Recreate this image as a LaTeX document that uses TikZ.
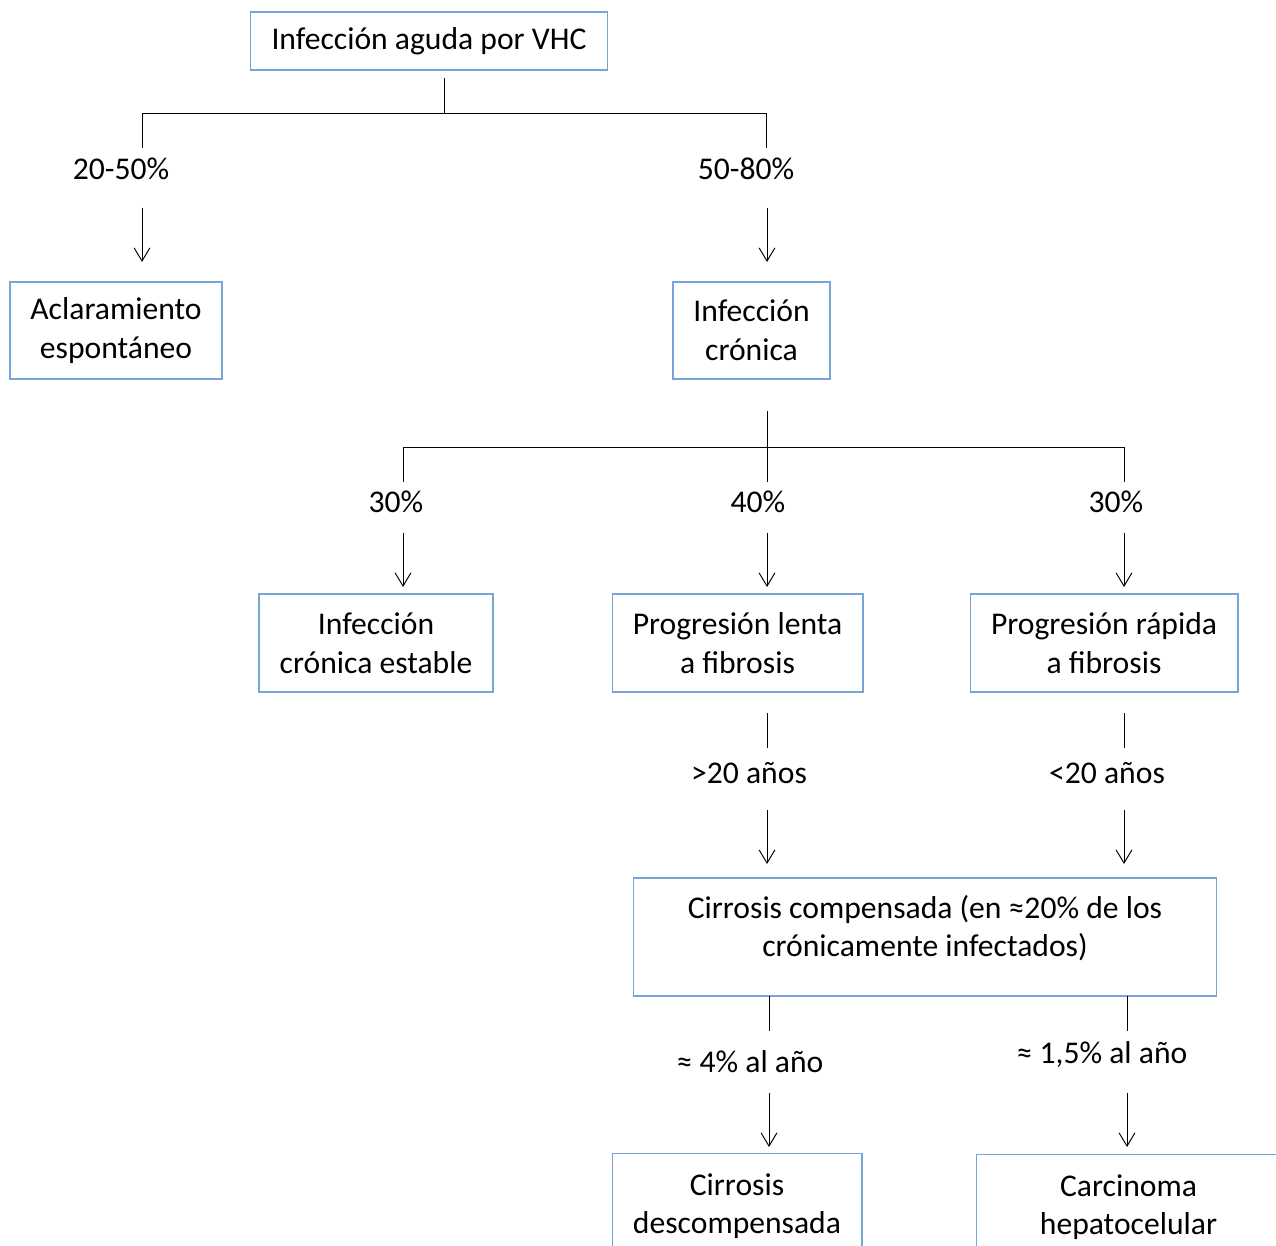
\documentclass[tikz,border=0pt]{standalone}
\usepackage{fontspec}
\setmainfont{Carlito}
\usetikzlibrary{arrows.meta}
\definecolor{boxblue}{RGB}{120,164,216}
\tikzset{
  caja/.style={draw=boxblue, line width=0.6pt, align=center, inner sep=0pt, font=\fontsize{18}{22}\selectfont},
  pct/.style={font=\fontsize{18}{22}\selectfont},
  linea/.style={line width=0.55pt},
  flecha/.style={line width=0.55pt, -{Straight Barb[length=7.5pt,width=9pt]}}
}
\begin{document}
\begin{tikzpicture}[x=0.02cm,y=-0.02cm]
        \clip (0,0) rectangle (1276,1246);
        \fill[white] (0,0) rectangle (1276,1246);
        % cajas
        \node[caja, minimum width=7.16cm, minimum height=1.16cm] (aguda) at (429,41) {Infección aguda por VHC};
        \node[caja, minimum width=4.24cm, minimum height=1.94cm] (aclar) at (116,330.5) {Aclaramiento\\espontáneo};
        \node[caja, minimum width=3.14cm, minimum height=1.94cm] (cronica) at (751.5,330.5) {Infección\\crónica};
        \node[caja, minimum width=4.68cm, minimum height=1.96cm] (estable) at (376,643) {Infección\\crónica estable};
        \node[caja, minimum width=5.02cm, minimum height=1.96cm] (lenta) at (737.5,643) {Progresión lenta\\a fibrosis};
        \node[caja, minimum width=5.36cm, minimum height=1.96cm] (rapida) at (1104,643) {Progresión rápida\\a fibrosis};
        \node[caja, minimum width=11.68cm, minimum height=2.36cm, text depth=0.44cm] (compensada) at (925,937) {Cirrosis compensada (en ≈20\% de los\\crónicamente infectados)};
        \node[caja, anchor=north, minimum width=5cm, minimum height=2.1cm] (descomp) at (737,1153) {Cirrosis\\descompensada};
        \node[caja, anchor=north, minimum width=6.1cm, minimum height=2.1cm] (carcinoma) at (1128.5,1154) {Carcinoma\\hepatocelular};
        % porcentajes
        \node[pct] (p2050) at (121,169) {20-50\%};
        \node[pct] (p5080) at (746,169) {50-80\%};
        \node[pct] (p30a) at (396,502) {30\%};
        \node[pct] (p40) at (758,502) {40\%};
        \node[pct] (p30b) at (1116,502) {30\%};
        \node[pct] (mas20) at (749,773) {>20 años};
        \node[pct] (menos20) at (1107,773) {<20 años};
        \node[pct] (anual4) at (750,1062) {≈ 4\% al año};
        \node[pct] (anual15) at (1102,1055) {≈ 1,5\% al año};
        % ramas
        \coordinate (a1) at (444,78);
        \coordinate (a2) at (444,113);
        \coordinate (izq) at (142,113);
        \coordinate (der) at (766,113);
        \coordinate (izq2) at (142,148);
        \coordinate (der2) at (766,148);
        \draw[linea] (a1) -- (a2);
        \draw[linea] (izq2) -- (izq) -- (der) -- (der2);
        \coordinate (c1) at (767,411);
        \coordinate (c2) at (767,482);
        \coordinate (b1) at (403,447);
        \coordinate (b2) at (1124,447);
        \coordinate (b1b) at (403,482);
        \coordinate (b2b) at (1124,482);
        \draw[linea] (c1) -- (c2);
        \draw[linea] (b1b) -- (b1) -- (b2) -- (b2b);
        \coordinate (l1) at (767,713);
        \coordinate (l2) at (767,748);
        \coordinate (r1) at (1124,713);
        \coordinate (r2) at (1124,748);
        \draw[linea] (l1) -- (l2);
        \draw[linea] (r1) -- (r2);
        \coordinate (d1) at (769,996);
        \coordinate (d2) at (769,1031);
        \coordinate (h1) at (1127,996);
        \coordinate (h2) at (1127,1031);
        \draw[linea] (d1) -- (d2);
        \draw[linea] (h1) -- (h2);
        % flechas
        \coordinate (fa1) at (142,208);
        \coordinate (fa2) at (142,262);
        \coordinate (fb1) at (767,208);
        \coordinate (fb2) at (767,262);
        \draw[flecha] (fa1) -- (fa2);
        \draw[flecha] (fb1) -- (fb2);
        \coordinate (fc1) at (403,533);
        \coordinate (fc2) at (403,587);
        \coordinate (fd1) at (767,533);
        \coordinate (fd2) at (767,587);
        \coordinate (fe1) at (1124,533);
        \coordinate (fe2) at (1124,587);
        \draw[flecha] (fc1) -- (fc2);
        \draw[flecha] (fd1) -- (fd2);
        \draw[flecha] (fe1) -- (fe2);
        \coordinate (ff1) at (767,810);
        \coordinate (ff2) at (767,864);
        \coordinate (fg1) at (1124,810);
        \coordinate (fg2) at (1124,864);
        \draw[flecha] (ff1) -- (ff2);
        \draw[flecha] (fg1) -- (fg2);
        \coordinate (fh1) at (769,1093);
        \coordinate (fh2) at (769,1147);
        \coordinate (fi1) at (1127,1093);
        \coordinate (fi2) at (1127,1147);
        \draw[flecha] (fh1) -- (fh2);
        \draw[flecha] (fi1) -- (fi2);
    \end{tikzpicture}
\end{document}
